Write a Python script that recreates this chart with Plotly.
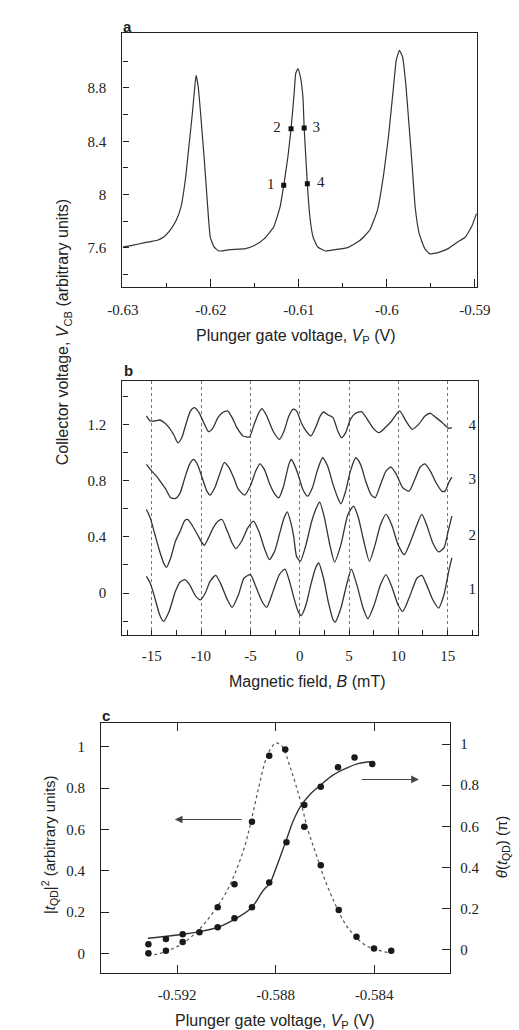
import plotly.graph_objects as go

# ---------------- Panel a data ----------------
vp_a = [-0.63, -0.62893, -0.6275, -0.62607, -0.62536, -0.62464, -0.62393, -0.62339, -0.62286,
        -0.6225, -0.62214, -0.62186, -0.62168, -0.62143, -0.62107, -0.62071, -0.62036, -0.62007,
        -0.61964, -0.6191, -0.61786, -0.61607, -0.615, -0.61393, -0.61286, -0.61214, -0.61172,
        -0.61125, -0.61089, -0.61054, -0.61036, -0.61011, -0.60983, -0.60954, -0.6094, -0.60904,
        -0.60875, -0.60839, -0.60786, -0.60697, -0.60589, -0.60447, -0.60304, -0.60197, -0.60108,
        -0.60036, -0.59983, -0.59929, -0.59894, -0.59858, -0.59822, -0.59786, -0.5975, -0.59715,
        -0.59679, -0.59633, -0.59572, -0.59518, -0.59411, -0.59304, -0.59197, -0.59108, -0.59036,
        -0.58983]
vcb_a = [7.6075, 7.62, 7.64, 7.6575, 7.6825, 7.7325, 7.8075, 7.9075, 8.1325,
         8.3575, 8.5825, 8.7825, 8.895, 8.8075, 8.5325, 8.2325, 7.9075, 7.6825,
         7.6075, 7.5775, 7.5875, 7.595, 7.62, 7.67, 7.7575, 7.9075, 8.07,
         8.2825, 8.495, 8.7575, 8.9075, 8.945, 8.8825, 8.7325, 8.5, 8.0825,
         7.8325, 7.6825, 7.6075, 7.5775, 7.5875, 7.6025, 7.6575, 7.7325, 7.8825,
         8.1575, 8.4325, 8.7825, 9.0075, 9.0825, 9.0325, 8.8325, 8.5325, 8.2325,
         7.9075, 7.7075, 7.5975, 7.5575, 7.5675, 7.595, 7.645, 7.6825, 7.7625,
         7.8575]
pts_vp = [-0.61172, -0.61089, -0.6094, -0.60904]
pts_v = [8.07, 8.495, 8.5, 8.0825]
pts_labels = ["1", "2", "3", "4"]
pts_label_vp = [-0.6132, -0.6125, -0.60804, -0.60751]
a_xticks = [-0.63, -0.62, -0.61, -0.6, -0.59]
a_xticktext = ["-0.63", "-0.62", "-0.61", "-0.6", "-0.59"]
a_yticks = [7.6, 8.0, 8.4, 8.8]
a_yticktext = ["7.6", "8", "8.4", "8.8"]

# ---------------- Panel b data ----------------
B4 = [-15.54, -15.16, -14.68, -14.2, -13.72, -13.24, -12.76, -12.35, -11.96, -11.49, -11.07, -10.69,
      -10.21, -9.73, -9.25, -8.77, -8.29, -7.81, -7.33, -6.85, -6.37, -5.73, -5.1, -4.62, -4.14,
      -3.82, -3.34, -2.7, -2.06, -1.58, -1.1, -0.64, -0.32, 0.16, 0.64, 1.13, 1.61, 2.09, 2.41,
      2.89, 3.38, 3.86, 4.24, 4.66, 5.14, 5.63, 6.27, 6.75, 7.4, 8.04, 8.68, 9.32, 10.13, 10.77,
      11.41, 12.06, 12.7, 13.25, 13.83, 14.47, 15.11, 15.43]
V4 = [1.262, 1.226, 1.226, 1.233, 1.214, 1.179, 1.126, 1.071, 1.107, 1.214, 1.298, 1.321,
      1.286, 1.214, 1.15, 1.179, 1.25, 1.286, 1.298, 1.25, 1.179, 1.119, 1.112, 1.202, 1.286,
      1.314, 1.262, 1.155, 1.095, 1.155, 1.262, 1.31, 1.298, 1.214, 1.155, 1.119, 1.179, 1.262, 1.29,
      1.269, 1.25, 1.155, 1.107, 1.143, 1.238, 1.279, 1.293, 1.25, 1.179, 1.143, 1.179, 1.226, 1.298, 1.226,
      1.167, 1.202, 1.262, 1.281, 1.25, 1.214, 1.174, 1.179]
B3 = [-15.54, -15.0, -14.52, -14.04, -13.56, -13.08, -12.6, -12.12, -11.65, -11.17, -10.78, -10.37,
      -9.89, -9.41, -9.09, -8.61, -8.13, -7.65, -7.17, -6.69, -6.21, -5.58, -4.94, -4.46, -4.04,
      -3.59, -3.02, -2.54, -2.12, -1.68, -1.1, -0.85, -0.64, -0.16, 0.32, 0.8, 1.29, 1.77, 2.32,
      2.83, 3.38, 3.86, 4.18, 4.66, 5.14, 5.69, 6.17, 6.69, 7.23, 7.65, 8.2, 8.75, 9.26, 9.81,
      10.45, 11.09, 11.74, 12.22, 12.7, 13.25, 13.83, 14.41, 14.73, 15.11, 15.43]
V3 = [0.917, 0.869, 0.833, 0.786, 0.738, 0.679, 0.674, 0.714, 0.821, 0.917, 0.952, 0.917,
      0.821, 0.726, 0.698, 0.75, 0.845, 0.929, 0.893, 0.821, 0.738, 0.698, 0.774, 0.869, 0.921,
      0.881, 0.774, 0.707, 0.679, 0.75, 0.917, 0.952, 0.929, 0.845, 0.738, 0.69, 0.75, 0.869, 0.964,
      0.905, 0.774, 0.679, 0.636, 0.726, 0.869, 0.964, 0.917, 0.798, 0.702, 0.679, 0.774, 0.869, 0.898, 0.845,
      0.75, 0.726, 0.821, 0.898, 0.921, 0.869, 0.786, 0.726, 0.726, 0.786, 0.826]
B2 = [-15.54, -15.16, -14.68, -14.2, -13.72, -13.5, -13.08, -12.6, -12.12, -11.65, -11.33, -10.85,
      -10.37, -9.89, -9.66, -9.25, -8.77, -8.29, -7.88, -7.33, -6.85, -6.47, -5.89, -5.26, -4.68,
      -4.14, -3.59, -3.08, -2.54, -2.06, -1.58, -1.26, -0.85, -0.6, -0.32, 0.06, 0.64, 1.22, 1.77,
      2.03, 2.51, 3.05, 3.54, 4.18, 4.89, 5.47, 5.95, 6.5, 7.07, 7.65, 8.2, 8.75, 9.32, 9.97,
      10.61, 11.25, 11.9, 12.38, 12.86, 13.5, 14.08, 14.63, 15.05, 15.43]
V2 = [0.595, 0.536, 0.417, 0.298, 0.202, 0.183, 0.25, 0.369, 0.44, 0.517, 0.524, 0.476,
      0.417, 0.357, 0.34, 0.393, 0.464, 0.512, 0.524, 0.44, 0.357, 0.317, 0.369, 0.464, 0.512,
      0.44, 0.321, 0.238, 0.298, 0.417, 0.536, 0.579, 0.488, 0.40, 0.262, 0.226, 0.345, 0.512, 0.619,
      0.648, 0.536, 0.345, 0.221, 0.345, 0.56, 0.619, 0.536, 0.369, 0.226, 0.345, 0.488, 0.56, 0.488, 0.345,
      0.274, 0.369, 0.488, 0.56, 0.488, 0.357, 0.293, 0.321, 0.44, 0.548]
B1 = [-15.54, -15.16, -14.68, -14.2, -13.82, -13.24, -12.6, -12.12, -11.65, -11.17, -10.53, -10.05,
      -9.57, -9.09, -8.51, -7.97, -7.33, -6.85, -6.21, -5.64, -5.0, -4.46, -3.82, -3.34, -2.7,
      -2.06, -1.49, -0.94, -0.58, -0.16, 0.16, 0.64, 1.13, 1.61, 1.93, 2.41, 2.89, 3.38, 3.6,
      4.18, 4.76, 5.24, 5.79, 6.43, 6.91, 7.56, 8.2, 8.75, 9.32, 9.97, 10.45, 11.09, 11.9, 12.38,
      12.86, 13.5, 14.08, 14.63, 15.11, 15.43]
V1 = [0.119, 0.071, -0.036, -0.155, -0.202, -0.131, 0.012, 0.079, 0.095, 0.06, -0.024, -0.048,
      0.0, 0.083, 0.126, 0.06, -0.048, -0.102, -0.012, 0.107, 0.131, 0.048, -0.06, -0.102, 0.012,
      0.131, 0.171, 0.06, -0.036, -0.131, -0.16, -0.083, 0.06, 0.179, 0.214, 0.107, -0.06, -0.19, -0.207,
      -0.107, 0.06, 0.171, 0.06, -0.107, -0.183, -0.083, 0.06, 0.131, 0.048, -0.083, -0.131, -0.036, 0.107, 0.126,
      0.06, -0.048, -0.107, -0.012, 0.155, 0.25]
curve_labels = ["1", "2", "3", "4"]
curve_label_v = [0.02, 0.407, 0.807, 1.186]
b_xticks = [-15, -10, -5, 0, 5, 10, 15]
b_xticktext = ["-15", "-10", "-5", "0", "5", "10", "15"]
b_yticks = [0, 0.4, 0.8, 1.2]
b_yticktext = ["0", "0.4", "0.8", "1.2"]

# ---------------- Panel c data ----------------
t2_vp = [-0.59316, -0.59245, -0.59177, -0.59035, -0.58967, -0.58896, -0.58826, -0.58761,
         -0.58684, -0.58617, -0.58544, -0.58472, -0.58401, -0.58331]
t2_val = [0.0, 0.013, 0.055, 0.223, 0.334, 0.637, 0.956, 0.987, 0.613, 0.427, 0.21, 0.081, 0.024, 0.013]
th_vp = [-0.59316, -0.59245, -0.59177, -0.59109, -0.59035, -0.58967, -0.58896, -0.58826, -0.58756,
         -0.58684, -0.58617, -0.58547, -0.5848, -0.58408]
th_val = [0.0275, 0.053, 0.076, 0.086, 0.11, 0.154, 0.207, 0.327, 0.523, 0.704, 0.793, 0.887, 0.935, 0.903]
t2_fit_vp = [-0.59318, -0.59248, -0.59177, -0.59106, -0.59042, -0.59003, -0.58965, -0.58926, -0.589,
             -0.58868, -0.58836, -0.5881, -0.58797, -0.58772, -0.58746, -0.5872, -0.58695, -0.58669,
             -0.58637, -0.58605, -0.58566, -0.58527, -0.58489, -0.58437, -0.58386, -0.58328]
t2_fit = [-0.013, 0.008, 0.048, 0.121, 0.218, 0.29, 0.387, 0.516, 0.637, 0.806, 0.952, 1.008, 1.019,
          1.0, 0.919, 0.823, 0.718, 0.597, 0.484, 0.371, 0.258, 0.161, 0.097, 0.04, 0.016, 0.0]
th_fit_vp = [-0.59318, -0.59248, -0.59177, -0.59106, -0.59035, -0.58965, -0.589, -0.58849, -0.58823,
             -0.5881, -0.58759, -0.58727, -0.58695, -0.58656, -0.58617, -0.58566, -0.58514, -0.58463, -0.58412]
th_fit = [0.057, 0.065, 0.076, 0.089, 0.11, 0.15, 0.202, 0.291, 0.324, 0.36, 0.526, 0.631, 0.704, 0.761,
          0.801, 0.85, 0.882, 0.906, 0.914]
c_xticks = [-0.592, -0.588, -0.584]
c_xticktext = ["-0.592", "-0.588", "-0.584"]
c_yticks = [0, 0.2, 0.4, 0.6, 0.8, 1]
c_yticktext = ["0", "0.2", "0.4", "0.6", "0.8", "1"]

INK = "#222222"
SERIF = "Liberation Serif"
SANS = "Liberation Sans"
W, H = 519, 1030


def px_x(p):
    return p / W


def px_y(p):
    return 1 - p / H


fig = go.Figure()

# Panel a
fig.add_trace(go.Scatter(x=vp_a, y=vcb_a, mode="lines", line=dict(color="#333", width=1.2, shape="spline", smoothing=0.4),
                         xaxis="x", yaxis="y", showlegend=False, hoverinfo="skip"))
fig.add_trace(go.Scatter(x=pts_vp, y=pts_v, mode="markers", marker=dict(symbol="square", size=5, color="#111"),
                         xaxis="x", yaxis="y", showlegend=False))
fig.add_trace(go.Scatter(x=pts_label_vp, y=pts_v, mode="text", text=pts_labels,
                         textfont=dict(family=SERIF, size=15, color=INK), xaxis="x", yaxis="y", showlegend=False))

# Panel b
for bx, vy in [(B1, V1), (B2, V2), (B3, V3), (B4, V4)]:
    fig.add_trace(go.Scatter(x=bx, y=vy, mode="lines", line=dict(color="#333", width=1.3, shape="spline", smoothing=0.6),
                             xaxis="x2", yaxis="y2", showlegend=False, hoverinfo="skip"))
fig.add_trace(go.Scatter(x=[17.5] * 4, y=curve_label_v, mode="text", text=curve_labels,
                         textfont=dict(family=SERIF, size=15, color=INK), xaxis="x2", yaxis="y2", showlegend=False))

# Panel c
fig.add_trace(go.Scatter(x=t2_fit_vp, y=t2_fit, mode="lines", line=dict(color="#555", width=1.2, dash="dot", shape="spline"),
                         xaxis="x3", yaxis="y3", showlegend=False))
fig.add_trace(go.Scatter(x=t2_vp, y=t2_val, mode="markers", marker=dict(size=6.5, color="#1a1a1a"),
                         xaxis="x3", yaxis="y3", showlegend=False))
fig.add_trace(go.Scatter(x=th_fit_vp, y=th_fit, mode="lines", line=dict(color="#333", width=1.4, shape="spline"),
                         xaxis="x3", yaxis="y4", showlegend=False))
fig.add_trace(go.Scatter(x=th_vp, y=th_val, mode="markers", marker=dict(size=6.5, color="#1a1a1a"),
                         xaxis="x3", yaxis="y4", showlegend=False))

axis_common = dict(showline=True, linecolor=INK, linewidth=1.3, ticks="inside", tickcolor=INK,
                   showgrid=False, zeroline=False, tickfont=dict(family=SERIF, size=15, color=INK))

fig.update_layout(
    width=W, height=H, margin=dict(l=0, r=0, t=0, b=0),
    paper_bgcolor="white", plot_bgcolor="white",
    xaxis=dict(axis_common, domain=[px_x(113.5), px_x(488.5)], anchor="y", range=[-0.63005, -0.58975],
               tickmode="array", tickvals=a_xticks, ticktext=a_xticktext, ticklen=8, mirror=True,
               ticklabelstandoff=9,
               minor=dict(tickmode="linear", tick0=-0.625, dtick=0.01, ticks="inside", ticklen=4, tickcolor=INK)),
    yaxis=dict(axis_common, domain=[px_y(287.3), px_y(33.3)], anchor="x", range=[7.305, 9.21],
               tickmode="array", tickvals=a_yticks, ticktext=a_yticktext, ticklen=6, mirror=True, ticklabelstandoff=12,
               minor=dict(tickmode="linear", tick0=7.4, dtick=0.4, ticks="inside", ticklen=5, tickcolor=INK)),
    xaxis2=dict(axis_common, domain=[px_x(113.5), px_x(489.3)], anchor="y2", range=[-17.98, 18.07],
                tickmode="array", tickvals=b_xticks, ticktext=b_xticktext, ticklen=5, mirror=True,
                showgrid=True, gridcolor="#777", griddash="dot", gridwidth=1, ticklabelstandoff=7,
                minor=dict(tickmode="linear", tick0=-17.5, dtick=5, ticks="inside", ticklen=5, tickcolor=INK)),
    yaxis2=dict(axis_common, domain=[px_y(635), px_y(381)], anchor="x2", range=[-0.299, 1.511],
                tickmode="array", tickvals=b_yticks, ticktext=b_yticktext, ticklen=6, mirror=True, ticklabelstandoff=12,
                minor=dict(tickmode="linear", tick0=-0.2, dtick=0.4, ticks="inside", ticklen=5, tickcolor=INK)),
    xaxis3=dict(axis_common, domain=[px_x(91), px_x(460)], anchor="y3", range=[-0.59508, -0.58092],
                tickmode="array", tickvals=c_xticks, ticktext=c_xticktext, ticklen=8, mirror="ticks",
                ticklabelstandoff=8),
    yaxis3=dict(axis_common, domain=[px_y(973), px_y(723)], anchor="x3", range=[-0.095, 1.115],
                tickmode="array", tickvals=c_yticks, ticktext=c_yticktext, ticklen=8, ticklabelstandoff=12),
    yaxis4=dict(axis_common, domain=[px_y(973), px_y(723)], anchor="x3", overlaying="y3", side="right",
                range=[-0.112, 1.102], tickmode="array", tickvals=c_yticks, ticktext=c_yticktext, ticklen=8,
                ticklabelstandoff=6),
)

title_font = dict(family=SANS, size=16, color=INK)


def lab(text, x, y, angle=0, font=title_font):
    return dict(text=text, x=px_x(x), y=px_y(y), xref="paper", yref="paper", showarrow=False,
                xanchor="center", yanchor="middle", textangle=angle, font=font)


bold_font = dict(family=SANS, size=15, color=INK)
ann = [
    lab("<b>a</b>", 119, 26, font=bold_font),
    lab("<b>b</b>", 120, 370, font=bold_font),
    lab("<b>c</b>", 96, 715, font=bold_font),
    lab("Plunger gate voltage, <i>V</i><sub>P</sub> (V)", 297, 337),
    lab("Magnetic field, <i>B</i> (mT)", 309, 681),
    lab("Plunger gate voltage, <i>V</i><sub>P</sub> (V)", 275, 1021),
    lab("Collector voltage, <i>V</i><sub>CB</sub> (arbitrary units)", 52, 332, angle=-90),
    lab("|<i>t</i><sub>QD</sub>|<sup>2</sup> (arbitrary units)", 36, 845, angle=-90,
        font=dict(family=SANS, size=15, color=INK)),
    lab("<i>θ</i>(<i>t</i><sub>QD</sub>) (π)", 515, 847, angle=-90,
        font=dict(family=SANS, size=15, color=INK)),
    # arrows in panel c
    dict(x=-0.59209, y=0.648, ax=-0.58932, ay=0.648, xref="x3", yref="y3", axref="x3", ayref="y3",
         showarrow=True, arrowhead=2, arrowsize=1.4, arrowwidth=1.1, arrowcolor="#444", text=""),
    dict(x=-0.58219, y=0.828, ax=-0.58457, ay=0.828, xref="x3", yref="y4", axref="x3", ayref="y4",
         showarrow=True, arrowhead=2, arrowsize=1.4, arrowwidth=1.1, arrowcolor="#444", text=""),
]
fig.update_layout(annotations=ann)

fig.write_html("out.html")
